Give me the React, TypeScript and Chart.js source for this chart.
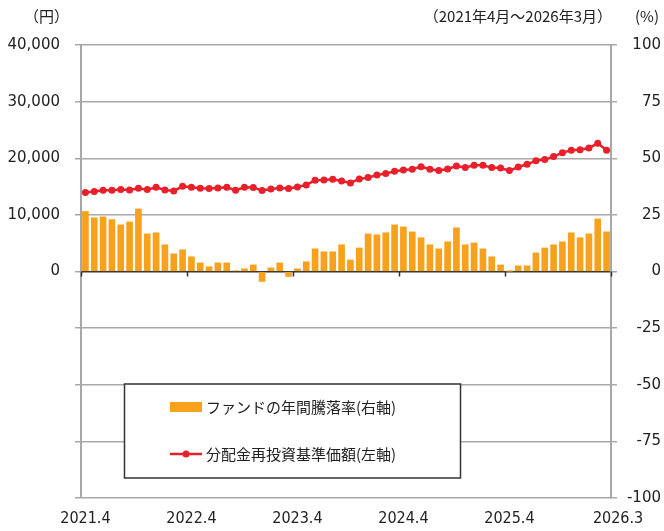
import React, { useEffect, useRef } from 'react';
import { Chart, registerables } from 'chart.js';

Chart.register(...registerables);

// Monthly data, 2021.4 - 2026.3 (60 months)
const returnPct: number[] = [
  26.5, 23.7, 24.1, 22.9, 20.6, 21.9, 27.6, 16.6, 17.1, 11.8,
  7.8, 9.6, 6.5, 3.8, 2.1, 3.8, 3.8, 0.3, 1.2, 2.9,
  -4.4, 1.6, 3.8, -2.2, 1.2, 4.3, 10.0, 8.7, 8.7, 11.8,
  5.1, 10.4, 16.6, 16.2, 17.1, 20.6, 19.7, 17.5, 14.9, 11.8,
  10.0, 13.1, 19.3, 11.8, 12.6, 10.0, 6.5, 2.9, 0.1, 2.5,
  2.5, 8.2, 10.4, 11.8, 13.1, 17.1, 14.9, 16.6, 23.2, 17.5,
];

const navYen: number[] = [
  13940, 14110, 14350, 14350, 14460, 14400, 14700, 14460, 14880, 14400,
  14230, 15050, 14880, 14700, 14640, 14760, 14880, 14350, 14880, 14820,
  14290, 14580, 14760, 14640, 14940, 15290, 16110, 16170, 16290, 15990,
  15640, 16350, 16580, 17050, 17290, 17700, 17930, 18050, 18520, 18050,
  17820, 18110, 18640, 18350, 18760, 18760, 18350, 18290, 17820, 18460,
  18930, 19580, 19760, 20290, 20990, 21400, 21520, 21810, 22640, 21400,
];

const xTickLabels: string[] = ['2021.4', '2022.4', '2023.4', '2024.4', '2025.4', '2026.3'];
const xTickPositions: number[] = [0.5, 12.5, 24.5, 36.5, 48.5, 60.8];
const yearBoundaries: number[] = [0, 12, 24, 36, 48, 60];

const barLabel = 'ファンドの年間騰落率(右軸)';
const lineLabel = '分配金再投資基準価額(左軸)';
const leftUnit = '（円）';
const periodText = '（2021年4月～2026年3月）';
const rightUnit = '(%)';

const ORANGE = '#F7A11C';
const RED = '#E8202A';
const GRID = '#a8a8a8';
const TEXT = '#222222';
const JP = '"Noto Sans CJK JP", "Noto Sans", sans-serif';
const NUM = '"DejaVu Sans", sans-serif';
const NARROW = '"DejaVu Sans Condensed", "Liberation Sans", sans-serif';

const overlayPlugin = {
  id: 'overlay',
  afterDraw(chart: any) {
    const ctx = chart.ctx as CanvasRenderingContext2D;
    const xs = chart.scales.x;
    const ys = chart.scales.y;
    const zeroY = ys.getPixelForValue(0);
    ctx.save();
    // year ticks on zero line
    ctx.strokeStyle = '#333';
    ctx.lineWidth = 1.5;
    yearBoundaries.forEach((v) => {
      const px = Math.round(xs.getPixelForValue(v)) + 0.5;
      ctx.beginPath();
      ctx.moveTo(px, zeroY);
      ctx.lineTo(px, zeroY + 5);
      ctx.stroke();
    });
    // header texts
    ctx.fillStyle = TEXT;
    ctx.font = `15px ${JP}`;
    ctx.textBaseline = 'middle';
    ctx.textAlign = 'left';
    ctx.fillText(leftUnit, 24, 16);
    ctx.textAlign = 'right';
    ctx.fillText(periodText, 612, 16);
    ctx.textAlign = 'left';
    ctx.fillText(rightUnit, 635, 16);

    // legend box
    const bx = 124.5, by = 384, bw = 336, bh = 94;
    ctx.fillStyle = '#ffffff';
    ctx.fillRect(bx, by, bw, bh);
    ctx.strokeStyle = '#333';
    ctx.lineWidth = 1.5;
    ctx.strokeRect(bx, by, bw, bh);
    // bar entry
    ctx.fillStyle = ORANGE;
    ctx.fillRect(170, 402, 32, 10);
    ctx.fillStyle = TEXT;
    ctx.font = `15px ${JP}`;
    ctx.textAlign = 'left';
    ctx.textBaseline = 'middle';
    ctx.fillText(barLabel, 206, 407);
    // line entry
    ctx.strokeStyle = RED;
    ctx.lineWidth = 2.5;
    ctx.beginPath();
    ctx.moveTo(170, 454);
    ctx.lineTo(202, 454);
    ctx.stroke();
    ctx.fillStyle = RED;
    ctx.beginPath();
    ctx.arc(186, 454, 3.5, 0, Math.PI * 2);
    ctx.fill();
    ctx.fillStyle = TEXT;
    ctx.fillText(lineLabel, 206, 454);
    ctx.restore();
  },
};

export default function App() {
  const canvasRef = useRef<HTMLCanvasElement | null>(null);

  useEffect(() => {
    document.body.style.margin = '0';
    const canvas = canvasRef.current;
    if (!canvas) return;
    const chart = new Chart(canvas, {
      type: 'bar',
      data: {
        datasets: [
          {
            type: 'line',
            label: lineLabel,
            data: navYen.map((v, i) => ({ x: i + 0.5, y: v })),
            yAxisID: 'y',
            borderColor: RED,
            backgroundColor: RED,
            borderWidth: 2.5,
            pointRadius: 3.5,
            pointBorderWidth: 0,
            pointBackgroundColor: RED,
            tension: 0,
            order: 0,
          } as any,
          {
            type: 'bar',
            label: barLabel,
            data: returnPct.map((v, i) => ({ x: i + 0.5, y: v })),
            yAxisID: 'y1',
            backgroundColor: ORANGE,
            borderWidth: 0,
            barThickness: 6,
            order: 1,
          } as any,
        ],
      },
      options: {
        animation: false,
        responsive: false,
        devicePixelRatio: 1,
        layout: { padding: { top: 45, right: 3, left: 0, bottom: 0 } },
        plugins: { legend: { display: false }, tooltip: { enabled: false } },
        scales: {
          x: {
            type: 'linear',
            min: 0,
            max: 60,
            offset: false,
            grid: { display: false, drawTicks: false, offset: false },
            border: { display: false },
            afterBuildTicks: (scale: any) => {
              scale.ticks = xTickPositions.map((v) => ({ value: v }));
            },
            afterFit: (scale: any) => {
              scale.height = 33;
            },
            ticks: {
              autoSkip: false,
              maxRotation: 0,
              padding: 11,
              color: TEXT,
              font: { family: NARROW, size: 16 },
              callback: (_v: any, i: number) => xTickLabels[i],
            },
          },
          y: {
            position: 'left',
            min: -40000,
            max: 40000,
            afterFit: (scale: any) => {
              scale.width = 81;
            },
            grid: {
              color: (c: any) => (c.tick && c.tick.value === 0 ? '#333333' : GRID),
              tickColor: GRID,
              lineWidth: 1.5,
              tickLength: 6,
            },
            border: { display: true, color: GRID, width: 2 },
            ticks: {
              stepSize: 10000,
              padding: 15,
              color: TEXT,
              font: { family: NUM, size: 15 },
              callback: (v: any) => (Number(v) >= 0 ? Number(v).toLocaleString('en-US') : ''),
            },
          },
          y1: {
            position: 'right',
            min: -100,
            max: 100,
            afterFit: (scale: any) => {
              scale.width = 50;
            },
            grid: {
              drawOnChartArea: false,
              color: GRID,
              tickColor: GRID,
              lineWidth: 1.5,
              tickLength: 6,
            },
            border: { display: true, color: GRID, width: 2 },
            ticks: {
              stepSize: 25,
              crossAlign: 'far',
              color: TEXT,
              font: { family: NUM, size: 15 },
            },
          },
        },
      } as any,
      plugins: [overlayPlugin],
    });
    return () => chart.destroy();
  }, []);

  return (
    <div style={{ width: 664, height: 531, background: '#fff' }}>
      <canvas ref={canvasRef} width={664} height={531} style={{ display: 'block' }} />
    </div>
  );
}
